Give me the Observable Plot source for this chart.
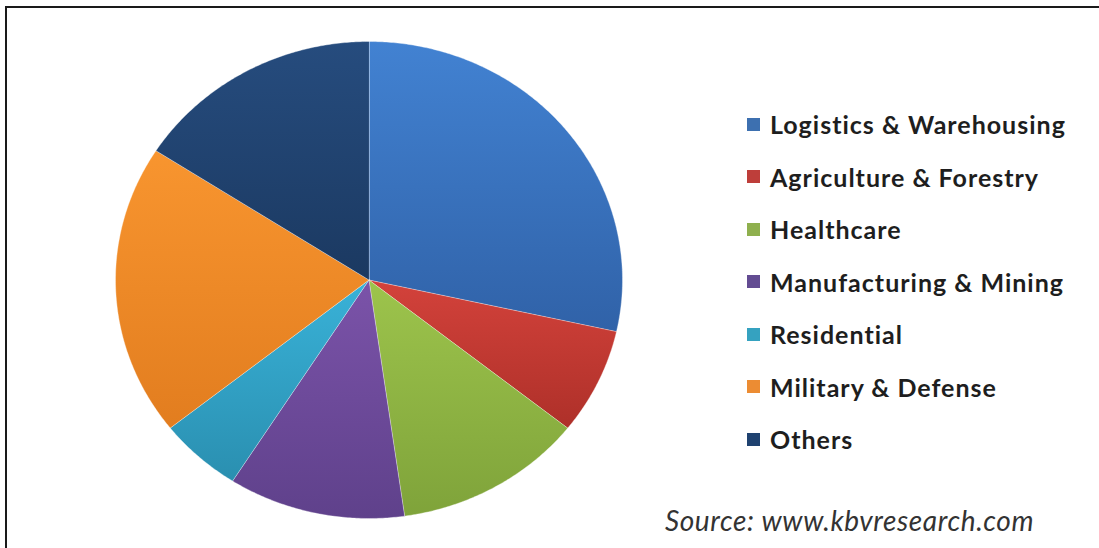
<!DOCTYPE html>
<html>
<head>
<meta charset="utf-8">
<script src="https://cdn.jsdelivr.net/npm/d3@7"></script>
<script src="https://cdn.jsdelivr.net/npm/@observablehq/plot@0.6"></script>
<style>
  html, body { margin: 0; padding: 0; background: #fff; }
  #wrap { position: relative; width: 1099px; height: 548px; overflow: hidden; background: #fff; }
  #frame { position: absolute; left: 5px; top: 6px; width: 1200px; height: 600px;
           border-top: 2px solid #1a1a1a; border-left: 2px solid #1a1a1a; }
  #chart { position: absolute; left: 0; top: 0; }
  #legend { position: absolute; left: 747px; top: 0; font-family: Lato, "Open Sans", sans-serif;
            font-weight: 700; font-size: 25px; letter-spacing: 1px; color: #1e1e1e; }
  .row { position: absolute; left: 0; white-space: nowrap; display: flex; align-items: center; height: 30px; }
  .sw { width: 13px; height: 13px; margin-right: 10px; flex: none; }
  #source { position: absolute; left: 665px; top: 503px; font-family: Lato, "Open Sans", sans-serif;
            font-style: italic; font-size: 28px; letter-spacing: 0.6px; color: #333; white-space: nowrap; }
</style>
</head>
<body>
<div id="wrap">
  <div id="frame"></div>
  <div id="chart"></div>
  <div id="legend"></div>
  <div id="source">Source: www.kbvresearch.com</div>
</div>
<script>
// ---- data ----
const categories = ["Logistics & Warehousing", "Agriculture & Forestry", "Healthcare",
  "Manufacturing & Mining", "Residential", "Military & Defense", "Others"];
const shares = [28.5, 7.2, 12.1, 11.3, 5.3, 19.8, 15.9];
const colorsTop = ["#4282d2", "#d3423b", "#9dc44c", "#7b53a9", "#39b2d8", "#f8952f", "#264c7e"];
const colorsBottom = ["#3062a8", "#ae3029", "#7fa33a", "#5f418b", "#2a8fb0", "#e27d1f", "#1b3961"];
const legendColors = ["#3d70b0", "#be3e3a", "#8fb04e", "#634c92", "#35a2c0", "#ec8c33", "#1f4270"];

// ---- build slice polygons from the shares ----
const total = d3.sum(shares);
let acc = 0;
const slices = categories.map((cat, i) => {
  const a0 = acc / total * 2 * Math.PI;
  acc += shares[i];
  const a1 = acc / total * 2 * Math.PI;
  const n = Math.max(2, Math.ceil((a1 - a0) / (Math.PI / 360)));
  const pts = [{cat, x: 0, y: 0}];
  for (let k = 0; k <= n; k++) {
    const t = a0 + (a1 - a0) * k / n;
    pts.push({cat, x: Math.sin(t), y: Math.cos(t)});
  }
  return {cat, i, pts};
});

const plot = Plot.plot({
  width: 1099,
  height: 548,
  marginLeft: 115,
  marginRight: 477,
  marginTop: 41,
  marginBottom: 30,
  x: {domain: [-1, 1], axis: null},
  y: {domain: [-1, 1], axis: null},
  style: {background: "transparent"},
  marks: slices.map(s => Plot.line(s.pts, {
    x: "x", y: "y", curve: "linear-closed",
    fill: `url(#g${s.i})`, stroke: "#ffffff", strokeOpacity: 0.35, strokeWidth: 1
  }))
});

// gradient definitions for the slices
const svg = d3.select(plot.tagName.toLowerCase() === "svg" ? plot : plot.querySelector("svg"));
const defs = svg.insert("defs", ":first-child");
categories.forEach((c, i) => {
  const g = defs.append("linearGradient").attr("id", `g${i}`)
    .attr("x1", 0).attr("y1", 0).attr("x2", 0).attr("y2", 1);
  g.append("stop").attr("offset", "0%").attr("stop-color", colorsTop[i]);
  g.append("stop").attr("offset", "100%").attr("stop-color", colorsBottom[i]);
});
document.getElementById("chart").appendChild(plot);

// legend
const legend = document.getElementById("legend");
categories.forEach((c, i) => {
  const row = document.createElement("div");
  row.className = "row";
  row.style.top = (124 + i * 52.5 - 15) + "px";
  const sw = document.createElement("div");
  sw.className = "sw";
  sw.style.background = legendColors[i];
  const tx = document.createElement("span");
  tx.textContent = c;
  row.appendChild(sw);
  row.appendChild(tx);
  legend.appendChild(row);
});
</script>
</body>
</html>
